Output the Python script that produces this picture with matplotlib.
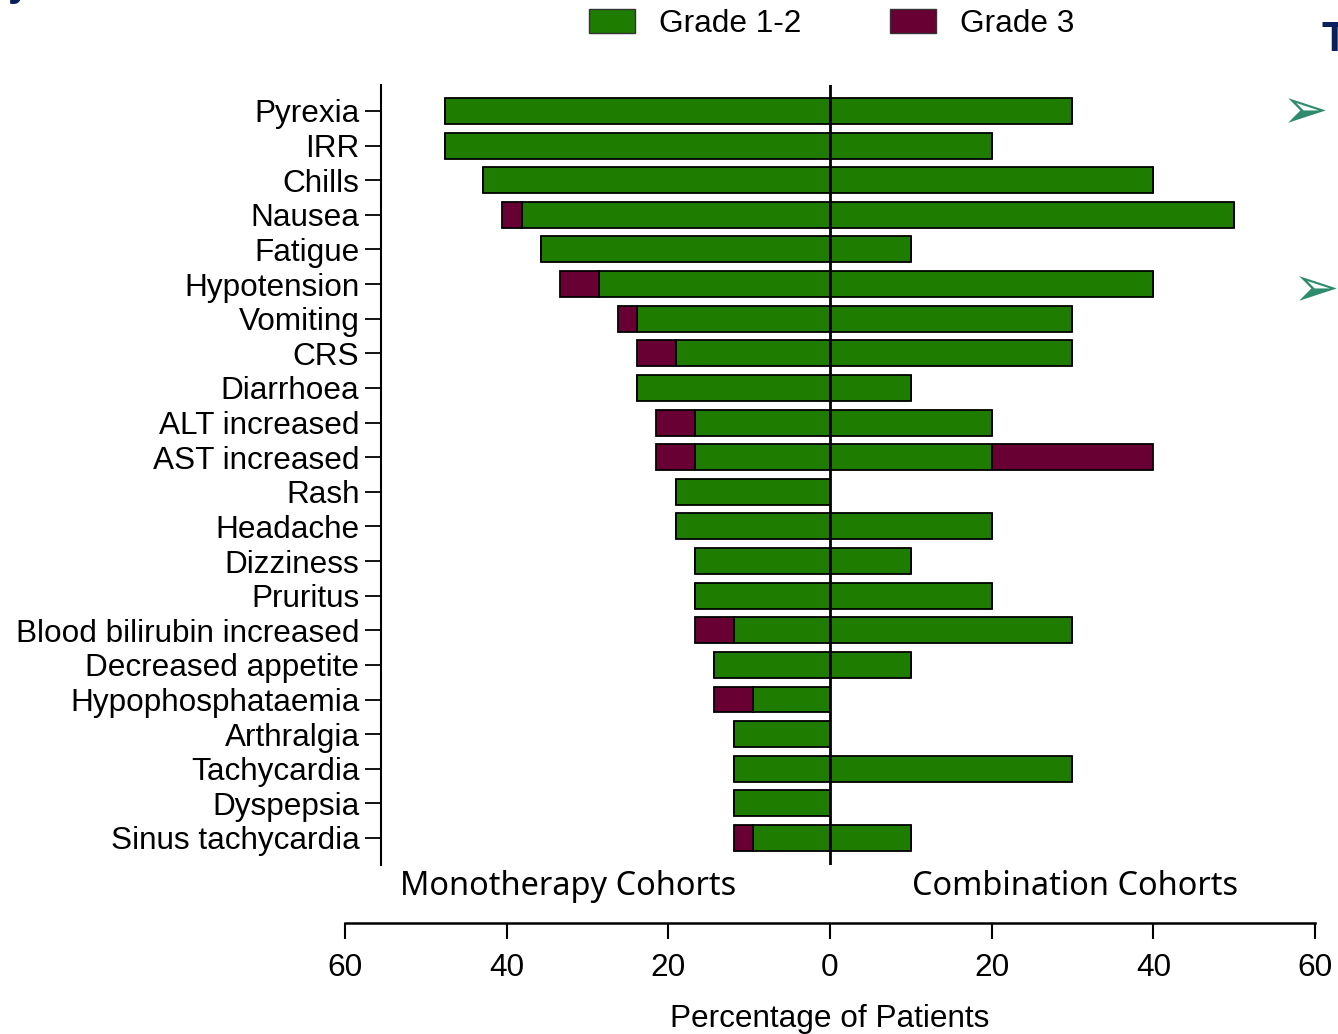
import numpy as np
import matplotlib
matplotlib.use('Agg')
import matplotlib.pyplot as plt
from matplotlib.patches import Patch

# adverse events, top to bottom
events = ['Pyrexia', 'IRR', 'Chills', 'Nausea', 'Fatigue', 'Hypotension', 'Vomiting',
          'CRS', 'Diarrhoea', 'ALT increased', 'AST increased', 'Rash', 'Headache',
          'Dizziness', 'Pruritus', 'Blood bilirubin increased', 'Decreased appetite',
          'Hypophosphataemia', 'Arthralgia', 'Tachycardia', 'Dyspepsia', 'Sinus tachycardia']

# monotherapy cohorts (%)
mono_g12 = [47.6, 47.6, 42.9, 38.1, 35.7, 28.6, 23.8, 19.0, 23.8, 16.7, 16.7,
            19.0, 19.0, 16.7, 16.7, 11.9, 14.3, 9.5, 11.9, 11.9, 11.9, 9.5]
mono_g3 = [0, 0, 0, 2.4, 0, 4.8, 2.4, 4.8, 0, 4.8, 4.8,
           0, 0, 0, 0, 4.8, 0, 4.8, 0, 0, 0, 2.4]

# combination cohorts (%)
combo_g12 = [30, 20, 40, 50, 10, 40, 30, 30, 10, 20, 20,
             0, 20, 10, 20, 30, 10, 0, 0, 30, 0, 10]
combo_g3 = [0, 0, 0, 0, 0, 0, 0, 0, 0, 0, 20,
            0, 0, 0, 0, 0, 0, 0, 0, 0, 0, 0]

green = '#1e7d00'
maroon = '#690033'
label_font = 'Liberation Sans'

fig = plt.figure(figsize=(13.38, 10.34), dpi=100)
ax = fig.add_axes([381/1338, 169/1034, (1315-381)/1338, (865-85)/1034])

y = np.arange(len(events))
m12 = np.array(mono_g12)
m3 = np.array(mono_g3)
c12 = np.array(combo_g12)
c3 = np.array(combo_g3)

h = 0.75
ax.barh(y, -m12, height=h, color=green, edgecolor='black', linewidth=1.3)
ax.barh(y, -m3, left=-m12, height=h, color=maroon, edgecolor='black', linewidth=1.3)
ax.barh(y, c12, height=h, color=green, edgecolor='black', linewidth=1.3)
ax.barh(y, c3, left=c12, height=h, color=maroon, edgecolor='black', linewidth=1.3)

ax.axvline(0, color='black', linewidth=2)
ax.set_xlim(-55.5, 60)
ax.set_ylim(len(events) - 1 + 0.78, -0.75)
ax.set_yticks(y)
ax.set_yticklabels(events, fontsize=22.7, family=label_font)
ax.tick_params(axis='y', length=11.5, width=1.3, pad=4)
ax.set_xticks([])
for s in ['top', 'right', 'bottom']:
    ax.spines[s].set_visible(False)
ax.spines['left'].set_linewidth(1.5)

ax.text(-32.4, 22.4, 'Monotherapy Cohorts', ha='center', va='center',
        fontsize=23.4, family='Noto Sans')
ax.text(30.3, 22.4, 'Combination Cohorts', ha='center', va='center',
        fontsize=23.4, family='Noto Sans')

# separate percentage axis underneath
ax2 = fig.add_axes([345/1338, (1034-923)/1034, (1315-345)/1338, 0.0001])
ax2.set_xlim(-60, 60)
ticks = [-60, -40, -20, 0, 20, 40, 60]
ax2.set_xticks(ticks)
ax2.set_xticklabels([str(abs(t)) for t in ticks], fontsize=22.7, family=label_font)
ax2.tick_params(axis='x', length=11.5, width=1.5, pad=10)
ax2.set_yticks([])
for s in ['top', 'right', 'left']:
    ax2.spines[s].set_visible(False)
ax2.spines['bottom'].set_linewidth(1.8)
ax2.set_xlabel('Percentage of Patients', fontsize=22.7, family=label_font, labelpad=15)

handles = [Patch(facecolor=green, edgecolor='#333333', label='Grade 1-2'),
           Patch(facecolor=maroon, edgecolor='#333333', label='Grade 3')]
fig.legend(handles=handles, loc='center', bbox_to_anchor=(832/1338, 1 - 24/1034),
           ncol=2, frameon=False, prop={'family': label_font, 'size': 22.7},
           handlelength=1.45, handleheight=0.78, handletextpad=0.78, columnspacing=2.8)

# slide fragments around the chart
fig.text(1321/1338, 1 - 40/1034, 'T', color='#0a1f5c', fontsize=30, fontweight='bold',
         family='Liberation Sans', ha='left', va='center')
fig.text(1305/1338, 1 - 113/1034, '\u27a2', color='#2e8b6e', fontsize=40,
         family='DejaVu Sans', ha='center', va='center')
fig.text(1316/1338, 1 - 291/1034, '\u27a2', color='#2e8b6e', fontsize=40,
         family='DejaVu Sans', ha='center', va='center')
fig.text(8/1338, 1 + 16/1034, 'y', color='#0a1f5c', fontsize=30, fontweight='bold',
         family='Liberation Sans', ha='left', va='center')

fig.savefig('out.png', dpi=100)
